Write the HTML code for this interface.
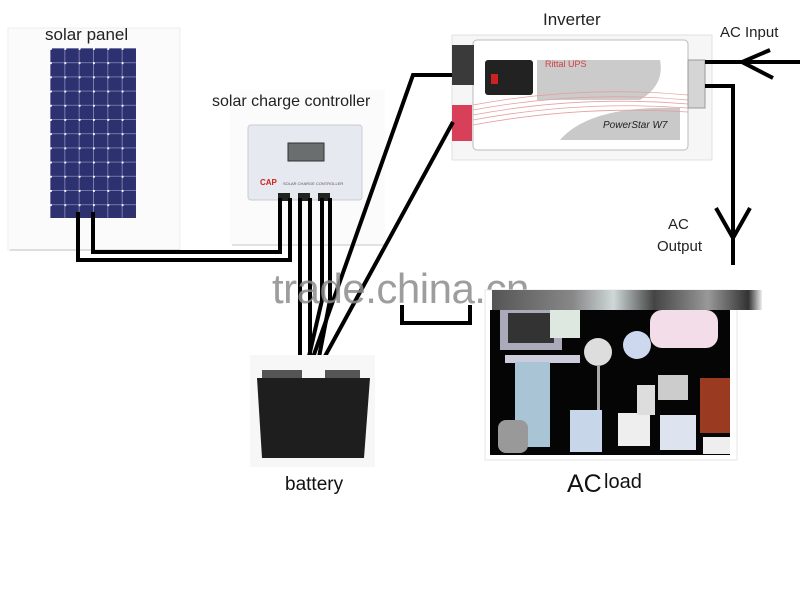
<!DOCTYPE html>
<html><head><meta charset="utf-8"><style>
html,body{margin:0;padding:0;background:#fff;width:800px;height:600px;overflow:hidden}
svg{display:block}
text{font-family:"Liberation Sans","DejaVu Sans",sans-serif}
</style></head><body>
<svg width="800" height="600" viewBox="0 0 800 600" xmlns="http://www.w3.org/2000/svg">
<defs>
<pattern id="cells" x="50" y="48" width="14.33" height="14.2" patternUnits="userSpaceOnUse">
<rect width="14.33" height="14.2" fill="#2e3170"/>
<path d="M0 0.5H14.33M0.5 0V14.2" stroke="#8a8cc0" stroke-width="0.8"/>
<circle cx="0.6" cy="0.6" r="1.4" fill="#fff"/>
</pattern>
<linearGradient id="strip" x1="0" x2="1" y1="0" y2="0">
<stop offset="0" stop-color="#555"/><stop offset="0.3" stop-color="#888"/><stop offset="0.45" stop-color="#cfd8d8"/><stop offset="0.6" stop-color="#444"/><stop offset="0.8" stop-color="#999"/><stop offset="0.95" stop-color="#333"/><stop offset="1" stop-color="#eee"/>
</linearGradient>
</defs>
<rect x="8" y="28" width="172" height="222" fill="#fbfbfb" stroke="#eee"/>
<line x1="10" y1="250" x2="180" y2="250" stroke="#ddd" stroke-width="2"/>
<rect x="50" y="48" width="86" height="170" fill="url(#cells)"/>
<text x="45" y="40" font-size="17" fill="#222">solar panel</text>
<rect x="230" y="90" width="155" height="155" fill="#fbfbfb"/>
<line x1="232" y1="245" x2="385" y2="245" stroke="#e2e2e2" stroke-width="2"/>
<rect x="248" y="125" width="114" height="75" rx="3" fill="#e6e9ef" stroke="#c9ccd3"/>
<rect x="288" y="143" width="36" height="18" fill="#6a6e6e" stroke="#333"/>
<text x="260" y="185" font-size="8" font-weight="bold" fill="#d02020">CAP</text>
<text x="283" y="185" font-size="4" fill="#555">SOLAR CHARGE CONTROLLER</text>
<rect x="278" y="193" width="12" height="8" fill="#222"/><rect x="298" y="193" width="12" height="8" fill="#222"/><rect x="318" y="193" width="12" height="8" fill="#222"/>
<text x="212" y="106" font-size="16" fill="#222">solar charge controller</text>
<rect x="452" y="35" width="260" height="125" fill="#f6f6f6" stroke="#e0e0e0"/>
<rect x="473" y="40" width="215" height="110" rx="4" fill="#fff" stroke="#bbb"/>
<rect x="485" y="60" width="48" height="35" rx="3" fill="#222"/>
<rect x="491" y="74" width="7" height="10" fill="#c22"/>
<path d="M537 60 H660 Q665 85 640 100 H537 Z" fill="#cbcbcb"/>
<text x="545" y="67" font-size="9" fill="#d04040">Rittal UPS</text>
<path d="M560 140 Q590 105 680 108 V140 Z" fill="#c9c9c9"/>
<text x="603" y="128" font-size="10" font-style="italic" font-family="Liberation Serif,serif" fill="#222">PowerStar W7</text>
<g stroke="#e6a0a0" stroke-width="0.8" fill="none">
<path d="M473 105 Q580 85 688 95"/><path d="M473 110 Q580 90 688 100"/><path d="M473 115 Q580 95 688 104"/><path d="M473 120 Q580 100 688 108"/><path d="M473 125 Q580 105 688 112"/>
</g>
<rect x="452" y="45" width="22" height="40" fill="#3a3a3a"/>
<rect x="452" y="105" width="20" height="36" fill="#d8405a"/>
<rect x="688" y="60" width="17" height="48" fill="#d5d5d5" stroke="#999"/>
<text x="543" y="25" font-size="17" font-family="Liberation Mono,monospace" fill="#222">Inverter</text>
<text x="720" y="37" font-size="15" fill="#222">AC Input</text>
<text x="668" y="229" font-size="15" fill="#222">AC</text>
<text x="657" y="251" font-size="15" fill="#222">Output</text>
<g stroke="#000" stroke-width="4" fill="none" stroke-linejoin="miter">
<polyline points="78,212 78,260 290,260 290,198"/>
<polyline points="93,212 93,252 280,252 280,198"/>
<line x1="300" y1="198" x2="300" y2="380"/>
<line x1="310" y1="198" x2="310" y2="378"/>
<line x1="322" y1="198" x2="322" y2="300"/>
<line x1="330" y1="198" x2="330" y2="300"/>
<polyline points="452,75 413,75 305,380"/>
<line x1="453" y1="122" x2="312" y2="380"/>
<line x1="322" y1="300" x2="304" y2="378"/>
<line x1="330" y1="300" x2="315" y2="378"/>
<line x1="705" y1="62" x2="800" y2="62"/>
<polyline points="770,50 742,62 773,78"/>
<polyline points="705,86 733,86 733,265"/>
<polyline points="716,208 733,238 750,208"/>
<polyline points="402,305 402,323 470,323 470,305"/>
</g>
<text x="272" y="303" font-size="42" fill="#8c8c8c" fill-opacity="0.85" letter-spacing="-0.5">trade.china.cn</text>
<rect x="485" y="290" width="252" height="170" fill="#fff" stroke="#e5e5e5"/>
<rect x="492" y="290" width="270" height="20" fill="url(#strip)"/>
<rect x="490" y="310" width="240" height="145" fill="#050505"/>
<rect x="500" y="310" width="62" height="40" fill="#aab"/><rect x="508" y="313" width="46" height="30" fill="#333"/>
<rect x="505" y="355" width="75" height="8" fill="#ccd"/>
<rect x="515" y="362" width="35" height="85" fill="#a9c4d4"/>
<rect x="550" y="310" width="30" height="28" fill="#dde8e0"/>
<circle cx="598" cy="352" r="14" fill="#ddd"/><rect x="597" y="365" width="3" height="70" fill="#aaa"/>
<circle cx="637" cy="345" r="14" fill="#cdd7ee"/>
<rect x="650" y="310" width="68" height="38" rx="12" fill="#f2dde8"/>
<rect x="570" y="410" width="32" height="42" fill="#c8d6ea"/>
<rect x="618" y="413" width="32" height="33" fill="#eee"/>
<rect x="660" y="415" width="36" height="35" fill="#dde4f0"/>
<rect x="637" y="385" width="18" height="30" fill="#ddd"/><rect x="658" y="375" width="30" height="25" fill="#ccc"/>
<rect x="700" y="378" width="30" height="55" fill="#9a3a20"/>
<rect x="703" y="437" width="27" height="17" fill="#eee"/>
<rect x="498" y="420" width="30" height="33" rx="8" fill="#999"/>
<text x="567" y="492" font-size="25" font-family="Liberation Serif,serif" fill="#111">AC</text>
<text x="604" y="488" font-size="20" fill="#111">load</text>
<rect x="250" y="355" width="125" height="112" fill="#f7f7f7"/>
<rect x="262" y="370" width="40" height="10" fill="#555"/><rect x="325" y="370" width="35" height="10" fill="#555"/>
<path d="M257 378 H370 L364 458 H262 Z" fill="#1e1e1e"/>
<text x="285" y="490" font-size="19" fill="#111">battery</text>
</svg>
</body></html>
